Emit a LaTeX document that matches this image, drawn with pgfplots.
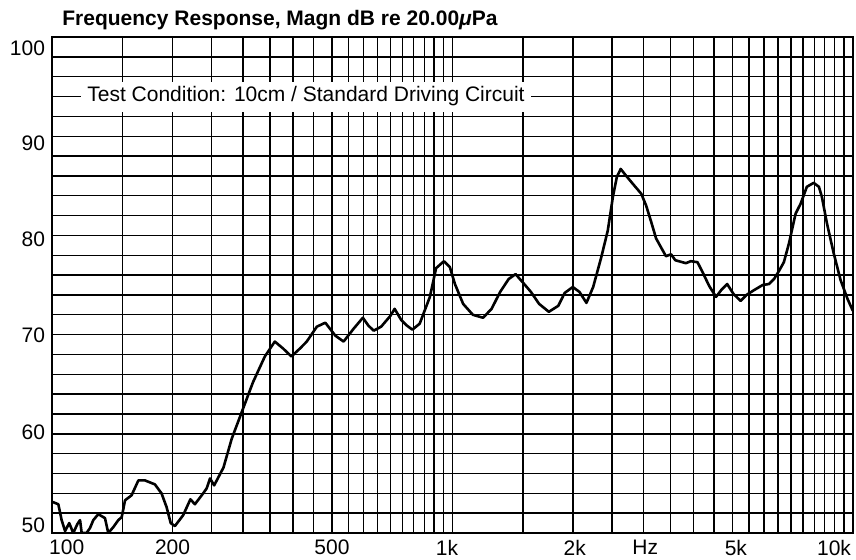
\documentclass[border=0pt]{standalone}
\usepackage{pgfplots}
\pgfplotsset{compat=1.18}
\usepackage{fontspec}
\setmainfont{Liberation Sans}
\begin{document}
\begin{tikzpicture}[font=\fontsize{10.5}{12}\selectfont]
\path[use as bounding box] (-26pt,-13pt) rectangle (402pt,266.5pt);
\begin{axis}[
  at={(0,0)}, anchor=south west,
  scale only axis, width=400.5pt, height=248pt,
  xmode=log, xmin=100, xmax=10000, ymin=50, ymax=100,
  log basis x=10,
  axis line style={black, line width=0.7pt},
  xtick={108.8,200,500,969,2020,3030,5100,8965},
  xticklabels={100,200,500,1k,2k,Hz,5k,10k},
  ytick={50.8,60.17,69.94,79.6,89.27,98.84},
  yticklabels={50,60,70,80,90,100},
  minor xtick={150,200,250,300,350,400,450,500,550,600,650,700,750,800,850,900,950,1000,1500,2000,2500,3000,3500,4000,4500,5000,5500,6000,6500,7000,7500,8000,8500,9000,9500},
  minor ytick={52,54,56,58,60,62,64,66,68,70,72,74,76,78,80,82,84,86,88,90,92,94,96,98},
  major tick length=0pt, minor tick length=0pt,
  xmajorgrids=false, ymajorgrids=false,
  xminorgrids=true, yminorgrids=true,
  minor grid style={black, line width=0.7pt},
  clip=true,
  /pgf/number format/assume math mode=true,
]
\addplot[black, line width=1.3pt, line join=round] coordinates {
(100,53.15) (103.7,52.9) (105.7,51.3) (107.8,50.2) (110.4,51.0) (113,50.0)
(115.7,50.9) (117.5,51.3) (118.6,50.0) (122,50.0) (124.4,50.5) (126.8,51.3)
(130.5,51.9) (135.6,51.5) (138.2,50.0) (142.3,50.6) (146.4,51.3) (149.3,51.6)
(152.2,53.3) (158,53.8) (164.3,55.3) (170.7,55.3) (180.7,54.9) (187.7,54.0)
(193.3,52.6) (197.9,51.0) (202.7,50.7) (212.6,51.8) (221.6,53.4) (227.4,52.9)
(238.5,54.0) (243.3,54.5) (248.1,55.5) (254,54.8) (268,56.6) (281,59.5)
(294.6,61.7) (317.6,65.2) (340,67.8) (360,69.3) (377.6,68.6) (396,67.8)
(416,68.6) (432.6,69.3) (458.4,70.8) (481.3,71.2) (509.7,69.9) (534.6,69.3)
(566.5,70.6) (597.3,71.7) (616.8,70.9) (635.8,70.4) (663.5,70.8) (700,71.9)
(717,72.6) (744,71.5) (770,70.9) (794,70.5) (828,71.1) (878,73.8)
(910,76.7) (952,77.4) (985,76.8) (1014,75.1) (1063,73.1) (1124,72.0)
(1192,71.7) (1252,72.6) (1315,74.3) (1381,75.6) (1437,76.1) (1510,75.1)
(1570,74.3) (1645,73.1) (1740,72.3) (1837,72.9) (1906,74.2) (1997,74.8)
(2075,74.3) (2160,73.2) (2245,74.8) (2352,77.8) (2442,80.5) (2515,83.9)
(2573,85.9) (2630,86.7) (2715,86.0) (2820,85.2) (2960,84.2) (3045,83.0)
(3132,81.4) (3223,79.7) (3316,78.8) (3412,77.9) (3512,78.1) (3600,77.5)
(3825,77.2) (3937,77.4) (4090,77.3) (4210,76.3) (4375,74.9) (4550,73.8)
(4690,74.5) (4850,75.1) (5030,74.1) (5240,73.4) (5420,74.0) (5670,74.5)
(5950,75.0) (6170,75.1) (6350,75.6) (6530,76.4) (6720,77.3) (6920,79.2)
(7190,82.2) (7400,83.2) (7670,84.9) (7980,85.3) (8220,84.9) (8360,83.9)
(8610,81.2) (8950,78.2) (9310,75.5) (9690,73.6) (9990,72.4)
};
\node[fill=white, anchor=west, inner xsep=3pt, inner ysep=0pt, minimum height=15pt]
  at (axis cs:118.1,94) {Test Condition: 10cm / Standard Driving Circuit};
\end{axis}
\node[anchor=base west, font=\fontsize{10.5}{12}\selectfont\bfseries, inner sep=0pt]
  at (5pt,254pt) {Frequency Response, Magn dB re 20.00\textit{μ}Pa};
\end{tikzpicture}
\end{document}
